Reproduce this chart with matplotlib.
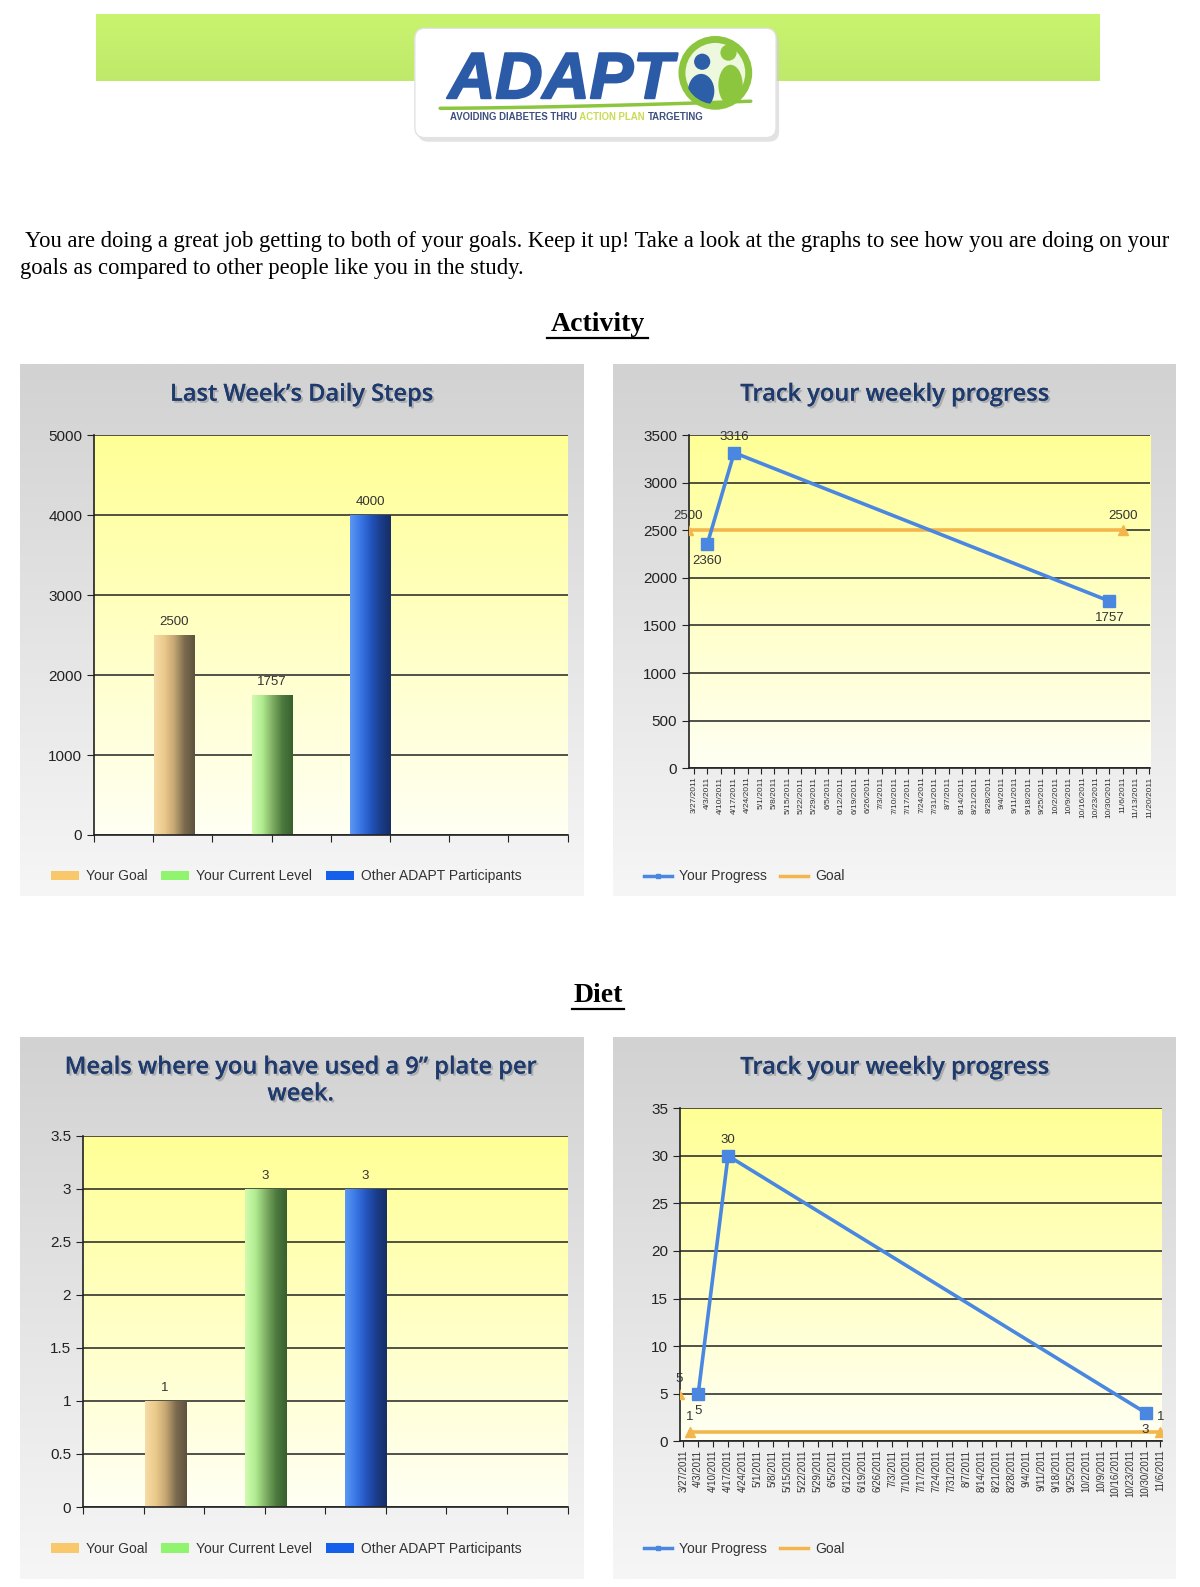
"""
ADAPT participant feedback sheet: activity and diet charts.
"""

import numpy as np
import pandas as pd
import matplotlib
matplotlib.use("Agg")
import matplotlib.pyplot as plt
import matplotlib.patheffects as pe
from matplotlib.colors import LinearSegmentedColormap, to_rgb
from matplotlib.lines import Line2D
from matplotlib.patches import FancyBboxPatch, Circle, Ellipse, Patch
from matplotlib.ticker import FuncFormatter

plt.rcParams["font.family"] = ["Liberation Sans", "DejaVu Sans"]

W, H = 1200, 1587        # output size in pixels
LW, LH = 1186, 1568      # layout coordinates below are measured on this grid

# ---------------------------------------------------------------------------
# Data
# ---------------------------------------------------------------------------
bar_series = ["Your Goal", "Your Current Level", "Other ADAPT Participants"]
steps_values = [2500, 1757, 4000]
plate_values = [1, 3, 3]

weeks_activity = [
    "3/27/2011", "4/3/2011", "4/10/2011", "4/17/2011", "4/24/2011", "5/1/2011",
    "5/8/2011", "5/15/2011", "5/22/2011", "5/29/2011", "6/5/2011", "6/12/2011",
    "6/19/2011", "6/26/2011", "7/3/2011", "7/10/2011", "7/17/2011", "7/24/2011",
    "7/31/2011", "8/7/2011", "8/14/2011", "8/21/2011", "8/28/2011", "9/4/2011",
    "9/11/2011", "9/18/2011", "9/25/2011", "10/2/2011", "10/9/2011",
    "10/16/2011", "10/23/2011", "10/30/2011", "11/6/2011", "11/13/2011",
    "11/20/2011",
]
weeks_diet = weeks_activity[:33]

steps_progress_dates = ["4/3/2011", "4/17/2011", "10/30/2011"]
steps_progress = [2360, 3316, 1757]
steps_goal_dates = ["3/24/2011", "11/6/2011"]
steps_goal = [2500, 2500]

plate_progress_dates = ["4/3/2011", "4/17/2011", "10/30/2011"]
plate_progress = [5, 30, 3]
plate_goal_dates = ["3/25/2011", "3/28/2011", "3/30/2011", "11/6/2011"]
plate_goal = [5, np.nan, 1, 1]   # nan: no line drawn between the first two points

# label placement for the progress points (goal labels always go above)
progress_label_pos = ["below", "above", "below"]

# ---------------------------------------------------------------------------
# Style
# ---------------------------------------------------------------------------
TITLE_COLOR = "#1f3b6e"
BLUE = "#4a87e0"
ORANGE = "#f3b64c"
LABEL_COLOR = "#333333"
swatch_colors = ["#f9c86a", "#90f46e", "#1560ea"]
bar_gradients = [
    ["#f6dca6", "#ecca8b", "#c4a673", "#7b6a4e", "#5e523f"],
    ["#d2fbb0", "#b0ec90", "#7fae64", "#4c7a3e", "#38602f"],
    ["#5c98f2", "#3a78e6", "#2456c0", "#1a3d8c", "#172e66"],
]


def frame(x0, y0, x1, y1):
    """Layout box (top-left origin) -> figure fraction rect."""
    return [x0 / LW, 1 - y1 / LH, (x1 - x0) / LW, (y1 - y0) / LH]


def vgrad(ax, x0, y0, x1, y1, top, bottom, zorder=1):
    t = np.linspace(0, 1, 256)[:, None, None]
    arr = np.array(to_rgb(top)) * (1 - t) + np.array(to_rgb(bottom)) * t
    ax.imshow(arr, extent=(x0, x1, y1, y0), aspect="auto",
              interpolation="bilinear", zorder=zorder)


def plot_area(ax):
    t = np.linspace(0, 1, 256)[:, None, None]
    top, bottom = np.array(to_rgb("#ffff96")), np.array(to_rgb("#fffff4"))
    arr = top * (1 - t) + bottom * t
    ax.imshow(arr, extent=(0, 1, 0, 1), transform=ax.transAxes,
              aspect="auto", interpolation="bilinear", zorder=0)
    for side in ("top", "right"):
        ax.spines[side].set_visible(False)
    for side in ("left", "bottom"):
        ax.spines[side].set_color("#222222")
        ax.spines[side].set_linewidth(1.2)
    ax.set_axisbelow(True)
    ax.yaxis.grid(True, color="#222222", lw=1.1)
    ax.tick_params(axis="y", labelsize=11, length=5, color="#222222",
                   labelcolor="#222222")
    ax.set_facecolor("none")


def bar_chart(ax, values, ymax, ystep):
    plot_area(ax)
    x = np.arange(len(values))
    bars = ax.bar(x, values, width=0.41, color=swatch_colors, zorder=2)
    grad = np.linspace(0, 1, 128)[None, :]
    for bar, cols in zip(bars, bar_gradients):
        cmap = LinearSegmentedColormap.from_list("g", cols)
        bx, bw, bh = bar.get_x(), bar.get_width(), bar.get_height()
        img = ax.imshow(grad, extent=(bx, bx + bw, 0, bh), cmap=cmap,
                        aspect="auto", zorder=2.1)
        img.set_clip_path(bar)
    for xi, v in zip(x, values):
        ax.annotate(f"{v:g}", (xi, v), xytext=(0, 5), textcoords="offset points",
                    ha="center", va="bottom", fontsize=9.5, color=LABEL_COLOR)
    ax.set_xlim(-0.82, 4.02)
    ax.set_ylim(0, ymax)
    ax.set_yticks(np.arange(0, ymax + ystep / 2, ystep))
    ax.yaxis.set_major_formatter(FuncFormatter(lambda v, p: f"{v:g}"))
    ax.set_xticks(np.linspace(-0.82, 4.02, 9))
    ax.tick_params(axis="x", labelbottom=False, length=5, color="#222222")


def line_chart(ax, weeks, prog_d, prog_v, goal_d, goal_v, ymax, ystep,
               xlim, tick_fs):
    plot_area(ax)
    pd_prog = pd.to_datetime(prog_d, format="%m/%d/%Y")
    pd_goal = pd.to_datetime(goal_d, format="%m/%d/%Y")
    ax.plot(pd_goal, goal_v, color=ORANGE, lw=2.6, marker="^", ms=7, zorder=3)
    ax.plot(pd_prog, prog_v, color=BLUE, lw=2.6, marker="s", ms=8, zorder=4)
    for d, v in zip(pd_goal, goal_v):
        if not np.isnan(v):
            ax.annotate(f"{v:g}", (d, v), xytext=(0, 6), textcoords="offset points",
                        ha="center", va="bottom", fontsize=9.5, color=LABEL_COLOR,
                        annotation_clip=False, zorder=6)
    for d, v, pos in zip(pd_prog, prog_v, progress_label_pos):
        dy, va = (7, "bottom") if pos == "above" else (-8, "top")
        ax.annotate(f"{v:g}", (d, v), xytext=(0, dy), textcoords="offset points",
                    ha="center", va=va, fontsize=9.5, color=LABEL_COLOR, zorder=6)
    tick_d = pd.to_datetime(weeks, format="%m/%d/%Y")
    ax.set_xticks(tick_d)
    ax.set_xticklabels(weeks, rotation=90, fontsize=tick_fs, color="#333333")
    ax.tick_params(axis="x", length=4, color="#222222", pad=2)
    ax.set_xlim(pd.Timestamp(xlim[0]), pd.Timestamp(xlim[1]))
    ax.set_ylim(0, ymax)
    ax.set_yticks(np.arange(0, ymax + ystep / 2, ystep))
    ax.yaxis.set_major_formatter(FuncFormatter(lambda v, p: f"{v:g}"))


fig = plt.figure(figsize=(W / 100, H / 100), dpi=100)
bg = fig.add_axes([0, 0, 1, 1])
bg.axis("off")

# ---------------------------------------------------------------------------
# Header / logo
# ---------------------------------------------------------------------------
vgrad(bg, 95, 14, 1087, 80, "#c9f46f", "#bfe96a")
bg.add_patch(FancyBboxPatch((413, 32), 357, 108,
                            boxstyle="round,pad=0,rounding_size=10",
                            fc="#cfcfcf", ec="none", alpha=0.6, zorder=2))
bg.add_patch(FancyBboxPatch((410, 28), 357, 108,
                            boxstyle="round,pad=0,rounding_size=10",
                            fc="white", ec="#e2e2e2", lw=1, zorder=3))
bg.text(443, 97, "ADAPT", fontsize=47, fontweight="bold", style="italic",
        color="#2b5aa6", va="baseline", zorder=4,
        path_effects=[pe.withStroke(linewidth=1.5, foreground="#2b5aa6")])
ring = Circle((707, 72), 33, fc="#eef8df", ec="#8cc63f", lw=5, zorder=4)
bg.add_patch(ring)
for patch in [Ellipse((722, 84), 24, 40, fc="#8cc63f"),
              Circle((720, 52), 8, fc="#8cc63f"),
              Ellipse((693, 90), 26, 34, fc="#2d5fa8"),
              Circle((694, 61), 8, fc="#2d5fa8")]:
    patch.set_zorder(5)
    bg.add_patch(patch)
    patch.set_clip_path(Circle((707, 72), 31, transform=bg.transData))
sx = np.linspace(435, 742, 40)
bg.plot(sx, 107 - 7 * ((sx - 435) / 307) ** 1.5, color="#8cc63f", lw=2.5,
        zorder=4, solid_capstyle="round")
t1 = bg.text(445, 121, "AVOIDING DIABETES THRU", fontsize=6.9, weight="bold",
             color="#3d4f7c", va="bottom", zorder=4)
t2 = bg.annotate(" ACTION PLAN ", xy=(1, 0), xycoords=t1, fontsize=6.9,
                 weight="bold", color="#c9dc52", va="bottom", zorder=4)
bg.annotate("TARGETING", xy=(1, 0), xycoords=t2, fontsize=6.9, weight="bold",
            color="#3d4f7c", va="bottom", zorder=4)

# ---------------------------------------------------------------------------
# Text
# ---------------------------------------------------------------------------
serif = ["Liberation Serif", "DejaVu Serif"]
bg.text(25, 239, "You are doing a great job getting to both of your goals. Keep it up! "
        "Take a look at the graphs to see how you are doing on your",
        family=serif, fontsize=16.3, va="center")
bg.text(20, 265, "goals as compared to other people like you in the study.",
        family=serif, fontsize=16.3, va="center")
for label, y in [("Activity", 321), ("Diet", 984)]:
    bg.text(591, y, label, family=serif, weight="bold", fontsize=20,
            ha="center", va="center")
bg.plot([541, 640], [334, 334], color="black", lw=1.6)
bg.plot([565, 617], [997, 997], color="black", lw=1.6)

# panels
for x0, y0, x1, y1 in [(20, 360, 577, 885), (606, 360, 1162, 885),
                       (20, 1025, 577, 1560), (606, 1025, 1162, 1560)]:
    vgrad(bg, x0, y0, x1, y1, "#d2d2d2", "#f6f6f6")

title_kw = dict(family=["Open Sans", "DejaVu Sans"], fontsize=17,
                fontweight="semibold", color=TITLE_COLOR, ha="center",
                va="center", zorder=5,
                path_effects=[pe.withSimplePatchShadow(offset=(1.5, -1.5),
                                                       shadow_rgbFace="#888888",
                                                       alpha=0.5),
                              pe.Normal()])
bg.text(298, 390, "Last Week\u2019s Daily Steps", **title_kw)
bg.text(884, 390, "Track your weekly progress", **title_kw)
bg.text(297, 1068, "Meals where you have used a 9\u201d plate per\nweek.",
        linespacing=1.15, **title_kw)
bg.text(884, 1055, "Track your weekly progress", **title_kw)

bg.set_xlim(0, LW)
bg.set_ylim(LH, 0)

# ---------------------------------------------------------------------------
# Charts
# ---------------------------------------------------------------------------
ax1 = fig.add_axes(frame(93, 430, 561, 825))
bar_chart(ax1, steps_values, 5000, 1000)

ax3 = fig.add_axes(frame(82, 1122, 561, 1489))
bar_chart(ax3, plate_values, 3.5, 0.5)

ax2 = fig.add_axes(frame(681, 430, 1137, 759))
line_chart(ax2, weeks_activity, steps_progress_dates, steps_progress,
           steps_goal_dates, steps_goal, 3500, 500,
           ("2011-03-24 10:00", "2011-11-20 12:00"), 6)

ax4 = fig.add_axes(frame(672, 1095, 1148, 1424))
line_chart(ax4, weeks_diet, plate_progress_dates, plate_progress,
           plate_goal_dates, plate_goal, 35, 5,
           ("2011-03-25 10:00", "2011-11-06 12:00"), 7)

# legends
bar_handles = [Patch(fc=c, ec="none") for c in swatch_colors]
line_handles = [Line2D([], [], color=BLUE, lw=2.5, marker="s", ms=3),
                Line2D([], [], color=ORANGE, lw=2.5)]
leg_kw = dict(loc="center left", frameon=False, fontsize=10, handlelength=2,
              handleheight=0.7, handletextpad=0.5, columnspacing=1.0,
              labelcolor="#333333", bbox_transform=fig.transFigure)
for ax, handles, labels, x, y in [
        (ax1, bar_handles, bar_series, 38, 866),
        (ax3, bar_handles, bar_series, 38, 1530),
        (ax2, line_handles, ["Your Progress", "Goal"], 624, 866),
        (ax4, line_handles, ["Your Progress", "Goal"], 624, 1530)]:
    ax.legend(handles, labels, ncol=len(labels),
              bbox_to_anchor=(x / LW, 1 - y / LH), **leg_kw)

fig.savefig("out.png", dpi=100)
